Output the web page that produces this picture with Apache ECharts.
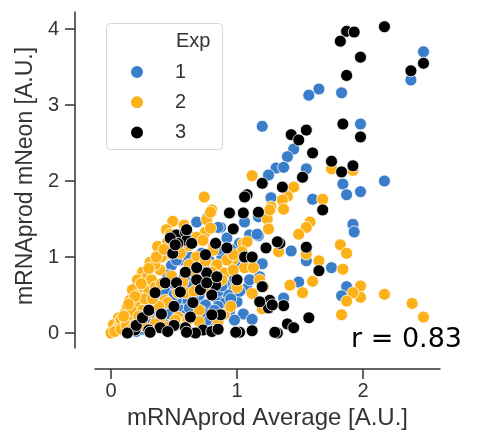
<!DOCTYPE html>
<html>
<head>
<meta charset="utf-8">
<script src="https://cdn.jsdelivr.net/npm/echarts@6/dist/echarts.min.js"></script>
<style>html,body{margin:0;padding:0;background:#fff}#c{width:482px;height:437px}</style>
</head>
<body>
<div id="c"></div>
<script>
const xTicks = [0, 1, 2];
const yTicks = [0, 1, 2, 3, 4];
const legendNames = ['1', '2', '3'];
const exp1 = [
[2.48,3.70],[2.38,3.33],[1.57,3.13],[1.65,3.21],[1.83,3.16],[1.98,2.75],[1.20,2.72],[1.45,2.42],[1.40,2.32],[1.31,2.17],[1.37,2.18],[1.25,2.08],[1.55,2.16],[1.84,1.96],[1.87,1.82],[1.98,1.86],[2.17,2.00],[1.60,1.76],[1.27,1.78],
[1.92,1.43],[1.93,1.33],[1.43,1.08],[1.55,0.95],[1.75,0.86],[1.49,0.67],[1.87,0.61],[1.83,0.49],[1.37,0.46],
[1.06,1.46],[1.17,1.53],[0.87,1.39],[1.17,1.28],[1.10,1.29],[1.20,0.91],[0.97,0.63],[1.08,0.59],[1.00,0.41],[0.92,0.43],[0.94,0.28],[0.76,0.34],[0.79,0.17],[0.80,0.61],
[0.68,1.46],[0.76,1.51],[0.55,0.96],[0.48,0.89],[0.45,0.76],[0.37,0.61],[0.31,0.33],[0.37,0.39],[0.59,0.41],[0.68,0.39],[0.75,0.37],[0.68,0.21],[0.80,0.76],[0.52,0.43],[0.29,0.53],
[0.85,1.39],[1.16,1.30],[1.02,1.18],[1.18,0.74],[0.93,0.50],[0.84,0.46],[0.90,0.39],[0.68,0.26],[0.61,0.43],[0.52,0.96],
[0.65,0.24],[0.76,0.17],[0.55,0.30],[0.20,0.02],[0.25,0.05],[0.30,0.08],[0.40,0.10],[0.45,0.15],[0.50,0.20],[0.60,0.25],[0.15,0.05],[0.35,0.15],[0.70,0.50],[0.72,0.60],[0.65,0.70],[0.60,0.80],[0.62,0.65],[0.55,0.55],[0.40,0.45],[0.42,0.30],[0.85,0.55],[0.90,0.65],[0.95,0.80],[1.00,0.90],[1.05,1.00],[0.88,1.00],[0.78,0.95],[0.72,1.05],[0.95,1.10],[0.50,0.65],[0.58,0.72],[0.20,0.30],[0.25,0.40],
[0.85,0.35],[0.95,0.45],[1.02,0.55],[0.88,0.62],[0.98,0.72],[1.10,0.70],[0.82,0.30],[0.72,0.28],[0.62,0.33],[0.57,0.18],[0.47,0.25],[0.33,0.25],[0.28,0.15],[0.12,0.04],[0.22,0.12],[0.43,0.55],[0.50,0.50],[0.65,0.50],[0.70,0.80],[0.75,0.85],[0.62,1.00],[0.57,1.10],[0.85,1.10],[0.92,1.25],[0.65,1.25],
[1.05,0.25],[0.98,0.17],[1.12,0.18]
];
const exp2 = [
[1.12,2.07],[1.75,2.16],[1.92,2.14],[1.45,1.92],[1.40,1.80],[1.36,1.75],[1.27,1.66],[1.37,1.63],[1.68,1.76],
[1.58,1.46],[1.55,1.39],[1.49,1.30],[1.82,1.16],[1.87,1.05],[1.55,1.04],[1.65,0.95],[1.84,0.84],[1.60,0.68],[1.42,0.63],[1.52,0.53],[1.98,0.62],[1.98,0.47],[1.92,0.53],[1.87,0.42],[2.17,0.51],[2.39,0.39],[2.48,0.21],[1.83,0.24],[1.20,0.32],
[0.74,1.79],[0.80,1.62],[0.76,1.49],[1.24,1.50],[1.26,1.62],[1.25,1.37],[1.05,1.18],[0.97,0.97],[0.83,0.89],[1.08,0.87],[1.18,0.70],[0.90,0.79],[1.33,1.07],
[0.79,1.59],[0.49,1.47],[0.44,1.36],[0.37,1.14],[0.43,1.03],[0.31,0.93],[0.39,0.83],[0.25,0.80],[0.21,0.70],[0.29,0.75],[0.17,0.57],[0.15,0.43],[0.21,0.37],[0.11,0.26],[0.06,0.20],[0.02,0.11],[0.00,0.00],[0.07,0.13],[0.25,0.30],[0.29,0.26],[0.52,0.16],[0.45,0.08],[0.53,0.53],[0.57,0.67],[0.71,1.22],[0.75,1.33],[0.68,1.00],[0.79,1.38],[0.81,1.13],[0.39,0.20],
[0.92,0.96],[0.97,0.83],[1.06,0.86],[1.13,0.86],[0.84,0.90],[0.80,0.80],[0.72,0.70],[0.77,0.57],[0.59,0.53],[0.53,0.21],[0.51,0.17],[0.61,0.17],[0.43,0.43],[1.21,0.61],[1.08,1.20],[1.04,1.07],[0.68,1.26],[0.73,1.22],[0.81,1.09],[0.97,1.03],
[0.05,0.05],[0.10,0.08],[0.08,0.18],[0.12,0.15],[0.15,0.10],[0.18,0.20],[0.20,0.12],[0.13,0.35],[0.16,0.30],[0.22,0.50],[0.26,0.60],[0.30,0.55],[0.32,0.70],[0.35,0.90],[0.40,1.00],[0.45,1.20],[0.50,1.30],[0.58,1.42],[0.35,0.60],[0.40,0.65],[0.48,0.75],[0.62,0.90],[0.66,0.55],[0.70,0.30],[0.60,0.05],[0.45,0.40],[0.38,0.35],[0.90,0.25],[0.85,0.15],
[0.03,0.02],[0.08,0.05],[0.12,0.10],[0.18,0.08],[0.22,0.22],[0.27,0.45],[0.33,0.45],[0.36,1.00],[0.42,1.10],[0.30,0.85],[0.24,0.65],[0.19,0.48],[0.14,0.38],[0.10,0.22],[0.47,1.30],[0.55,1.05],[0.62,1.15],[0.66,0.80],[0.75,0.95],[0.88,0.70],[1.00,0.60],[1.12,0.52],[0.95,0.35],[0.70,0.15],[0.35,0.12],[0.25,0.10]
];
const exp3 = [
[1.87,3.97],[1.93,3.96],[1.82,3.84],[2.17,4.03],[1.98,3.63],[1.87,3.39],[2.38,3.45],[2.48,3.55],[1.84,2.75],[1.98,2.58],[1.43,2.61],[1.49,2.54],[1.55,2.67],[1.60,2.37],[1.75,2.26],[1.83,2.12],[1.92,2.20],[1.52,2.05],[1.20,1.97],[1.36,1.92],[1.08,1.82],[1.68,1.62],[1.17,1.59],
[1.55,1.13],[1.34,1.18],[1.65,0.82],[1.37,0.36],[1.57,0.20],[1.12,0.03],[1.32,0.00],[1.40,0.12],[1.45,0.07],[1.26,0.43],[1.02,0.01],
[1.06,1.79],[0.94,1.58],[1.05,1.58],[0.97,1.37],[0.83,1.18],[0.92,1.12],[1.32,1.20],[1.23,1.12],[1.06,1.00],[1.12,1.00],[0.75,1.03],[0.76,0.79],[0.83,0.63],[0.87,0.24],[1.25,0.33],[1.28,0.37],[1.20,0.61],[1.30,0.01],[0.99,0.01],[0.73,0.04],
[0.52,1.29],[0.59,1.33],[0.60,1.22],[0.53,1.18],[0.47,1.25],[0.43,0.66],[0.52,0.66],[0.55,0.54],[0.68,0.86],[0.68,0.70],[0.49,1.05],[0.59,0.80],[0.35,0.53],[0.30,0.04],[0.39,0.07],[0.19,0.04],[0.13,0.00],[0.59,0.07],[0.67,0.00],[0.80,0.50],[0.71,0.57],[0.80,0.24],[0.63,0.21],
[0.60,1.36],[0.51,1.16],[0.64,1.18],[0.76,0.66],[0.84,0.74],[1.00,0.70],[1.18,0.41],[0.60,0.01],[0.31,0.01],
[0.20,0.10],[0.25,0.20],[0.30,0.30],[0.40,0.25],[0.50,0.35],[0.65,0.40],[0.50,0.10],[0.45,0.02],[0.80,0.02],[0.85,0.05]
];
const colors = ['#3a7dc8', '#fbb117', '#000000'];
const seriesData = [exp1, exp2, exp3];

const axisColor = '#333333';
const chart = echarts.init(document.getElementById('c'), null, {renderer: 'canvas'});
const option = {
  animation: false,
  backgroundColor: '#ffffff',
  grid: {left: 95, right: 42, top: 12, bottom: 89, containLabel: false, outerBoundsMode: 'none'},
  xAxis: {
    type: 'value', min: -0.127, max: 2.611, offset: 21,
    name: 'mRNAprod Average [A.U.]', nameLocation: 'middle', nameGap: 37,
    nameTextStyle: {fontFamily: 'Liberation Sans', fontSize: 24, color: axisColor},
    axisLine: {show: true, onZero: false, lineStyle: {color: axisColor, width: 1.5}},
    axisTick: {show: true, length: 10, lineStyle: {color: axisColor, width: 1.5}, customValues: xTicks},
    axisLabel: {fontFamily: 'Liberation Sans', fontSize: 20, color: axisColor, margin: 12, customValues: xTicks},
    splitLine: {show: false}
  },
  yAxis: {
    type: 'value', min: -0.197, max: 4.224, offset: 20,
    name: 'mRNAprod mNeon [A.U.]', nameLocation: 'middle', nameGap: 34,
    nameTextStyle: {fontFamily: 'Liberation Sans', fontSize: 23, color: axisColor, padding: [0, 0, 0, 8]},
    axisLine: {show: true, onZero: false, lineStyle: {color: axisColor, width: 1.5}},
    axisTick: {show: true, length: 10, lineStyle: {color: axisColor, width: 1.5}, customValues: yTicks},
    axisLabel: {fontFamily: 'Liberation Sans', fontSize: 20, color: axisColor, margin: 16, customValues: yTicks},
    splitLine: {show: false}
  },
  legend: {
    orient: 'vertical', left: 129, top: 62, padding: 0,
    itemWidth: 66, itemHeight: 14, itemGap: 10.2, icon: 'circle', selectedMode: false,
    textStyle: {fontFamily: 'Liberation Sans', fontSize: 20, lineHeight: 20, color: axisColor, padding: 0},
    data: legendNames
  },
  graphic: [
    {type: 'rect', z: 0, shape: {x: 106.5, y: 23.5, width: 116, height: 126, r: 4},
     style: {fill: '#ffffff', stroke: '#d4d4d4', lineWidth: 1}},
    {type: 'text', z: 5, x: 176, y: 41, style: {text: 'Exp', fontFamily: 'Liberation Sans', fontSize: 20, fill: axisColor, verticalAlign: 'middle', align: 'left'}},
    {type: 'text', z: 5, x: 351, y: 340, style: {text: 'r = 0.83', fontFamily: 'DejaVu Sans', fontSize: 27, fill: '#000000', verticalAlign: 'middle', align: 'left'}}
  ],
  series: seriesData.map((d, i) => ({
    type: 'scatter', name: legendNames[i], data: d,
    symbol: 'circle', symbolSize: 12,
    itemStyle: {color: colors[i], borderColor: '#ffffff', borderWidth: 0.8, opacity: 1},
    emphasis: {disabled: true}
  }))
};
chart.setOption(option);
</script>
</body>
</html>
